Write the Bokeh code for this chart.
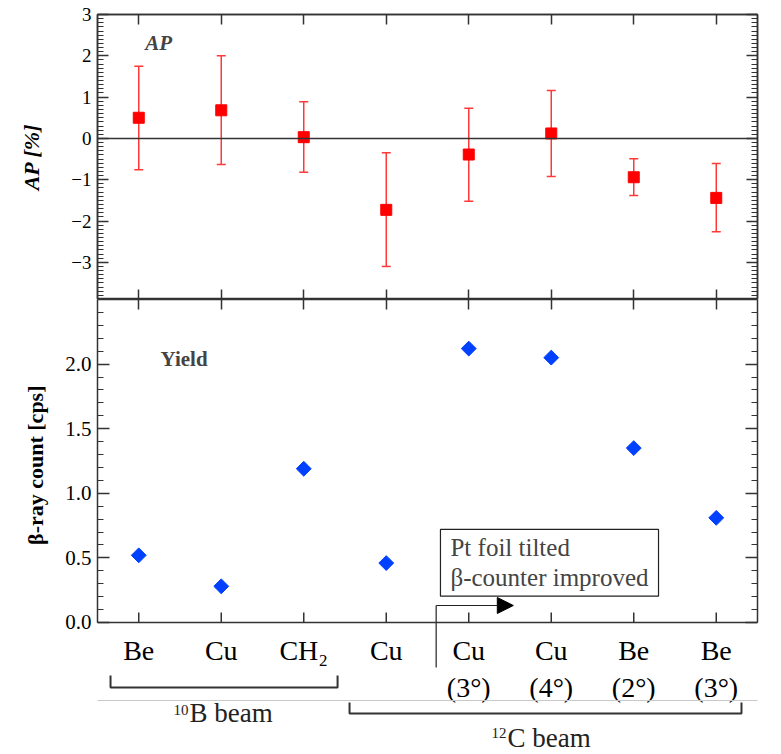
from math import pi
from bokeh.plotting import figure
from bokeh.layouts import column
from bokeh.models import (Range1d, FixedTicker, LinearAxis, Span, Whisker, Title,
                          TeeHead, ColumnDataSource, Label, Arrow, NormalHead, NumeralTickFormatter)
from bokeh.core.properties import value
from bokeh.embed import file_html
from bokeh.resources import INLINE

# ---------------- data ----------------
positions = [1, 2, 3, 4, 5, 6, 7, 8]
targets = ["Be", "Cu", "CH\u2082", "Cu", "Cu\n(3°)", "Cu\n(4°)", "Be\n(2°)", "Be\n(3°)"]
ap_value = [0.50, 0.68, 0.03, -1.73, -0.39, 0.12, -0.94, -1.44]
ap_upper = [1.75, 2.00, 0.89, -0.35, 0.73, 1.16, -0.49, -0.61]
ap_lower = [-0.76, -0.63, -0.82, -3.10, -1.52, -0.92, -1.38, -2.26]
yield_cps = [0.52, 0.28, 1.19, 0.46, 2.12, 2.05, 1.35, 0.81]
ap_ticks = [-3, -2, -1, 0, 1, 2, 3]
yield_ticks = [0.0, 0.5, 1.0, 1.5, 2.0]
beam_mass = ["10", "12"]
beam_names = ["B beam", "C beam"]

SERIF = "Liberation Serif"
AX = "#333333"
RED = "#ff0000"
BLUE = "#0040ff"

xr = Range1d(0.5, 8.5)


def style_axis(ax, tick_in, minor_in, labels, size="20px"):
    ax.axis_line_color = AX
    ax.axis_line_width = 1.5
    ax.major_tick_line_color = AX
    ax.major_tick_line_width = 1.5
    ax.minor_tick_line_color = AX if minor_in else None
    ax.minor_tick_line_width = 1.2
    ax.major_tick_in = tick_in
    ax.major_tick_out = 0
    ax.minor_tick_in = minor_in
    ax.minor_tick_out = 0
    ax.major_label_text_font = SERIF
    ax.major_label_text_color = "black"
    ax.axis_label_text_font = SERIF
    ax.axis_label_text_color = "black"
    if labels:
        ax.major_label_text_font_size = size
        ax.major_label_standoff = 6
    else:
        ax.major_label_text_font_size = "0px"
        ax.major_label_standoff = 0
        ax.major_label_text_color = None


def make_fig(height, yrange, top_b, bottom_b):
    p = figure(width=781, height=height, x_range=xr, y_range=yrange,
               output_backend="svg", toolbar_location=None,
               x_axis_location=None, y_axis_location=None,
               min_border_left=97, min_border_right=24,
               min_border_top=top_b, min_border_bottom=bottom_b)
    p.grid.visible = False
    p.background_fill_color = "white"
    p.border_fill_color = "white"
    return p


# ---------------- top panel: AP ----------------
top = make_fig(299, Range1d(-3.9, 3.0), 14, 0)
top.outline_line_color = AX
top.outline_line_width = 1.5
src_ap = ColumnDataSource(dict(x=positions, y=ap_value, upper=ap_upper, lower=ap_lower))

for loc, lab in (("left", True), ("right", False)):
    ax = LinearAxis(ticker=FixedTicker(ticks=ap_ticks,
                                       minor_ticks=[i / 10 for i in range(-39, 31)]))
    style_axis(ax, 11, 6, lab, "19px")
    if lab:
        ax.axis_label = "AP [%]"
        ax.axis_label_text_font_size = "22px"
        ax.axis_label_text_font_style = "bold italic"
        ax.axis_label_standoff = 24
    top.add_layout(ax, loc)
for loc in ("above", "below"):
    ax = LinearAxis(ticker=FixedTicker(ticks=positions))
    style_axis(ax, 10, 0, False)
    top.add_layout(ax, loc)

top.add_layout(Span(location=0, dimension="width", line_color=AX, line_width=1.5))
top.add_layout(Whisker(base="x", upper="upper", lower="lower", source=src_ap,
                       line_color="#ff3838", line_width=1.5,
                       upper_head=TeeHead(size=9, line_color="#ff3838", line_width=1.5),
                       lower_head=TeeHead(size=9, line_color="#ff3838", line_width=1.5)))
top.scatter("x", "y", source=src_ap, marker="square", size=11,
            fill_color=RED, line_color=RED)
top.add_layout(Label(x=1.08, y=2.32, text="AP", text_font=SERIF, text_font_size="21px",
                     text_font_style="bold italic", text_align="left", text_baseline="middle"))

# ---------------- bottom panel: yield (frame extended below for the labels) ----------------
bot = make_fig(455, Range1d(-1.0217, 2.5), 0, 0)
bot.outline_line_color = None
src_y = ColumnDataSource(dict(x=positions, y=yield_cps))

for loc, lab in (("left", True), ("right", False)):
    ax = LinearAxis(ticker=FixedTicker(ticks=yield_ticks,
                                       minor_ticks=[i / 10 for i in range(0, 26)]),
                    formatter=NumeralTickFormatter(format="0.0"), bounds=(0, 2.5))
    style_axis(ax, 12, 6, lab, "21px")
    bot.add_layout(ax, loc)
bot.add_layout(Title(text="β-ray count [cps]", align="right", offset=86, standoff=29,
                     text_font=SERIF, text_font_size="22px", text_font_style="bold",
                     text_color="black"), "left")
ax_top = LinearAxis(ticker=FixedTicker(ticks=positions))
style_axis(ax_top, 10, 0, False)
bot.add_layout(ax_top, "above")

# bottom edge of the panel, its ticks and the category labels
bot.add_layout(Span(location=0, dimension="width", line_color=AX, line_width=1.5))
bot.segment(x0=positions, y0=[0] * 8, x1=positions, y1=[0.0774] * 8,
            line_color=AX, line_width=1.5)
bot.text(x=positions, y=[-0.093] * 8, text=targets, text_font=value(SERIF),
         text_font_size="28px", text_align="center", text_baseline="top",
         text_line_height=1.22, text_color="black")

bot.scatter("x", "y", source=src_y, marker="square", angle=pi / 4, size=10.5,
            fill_color=BLUE, line_color=BLUE)

bot.add_layout(Label(x=1.264, y=2.04, text="Yield", text_font=SERIF, text_font_size="21px",
                     text_font_style="bold", text_align="left", text_baseline="middle"))

# annotation box + arrow
bot.add_layout(Label(x=4.657, y=0.72, text="Pt foil tilted\nβ-counter improved",
                     text_font=SERIF, text_font_size="25px", anchor="top_left",
                     text_align="left", text_baseline="top",
                     padding=dict(left=10, right=10, top=5, bottom=5),
                     text_line_height=1.1,
                     border_line_color="#222222", border_line_width=1.2,
                     background_fill_color="white"))
bot.segment(x0=[4.605], y0=[-0.348], x1=[4.605], y1=[0.1316], line_color="#222222",
            line_width=1.2)
bot.add_layout(Arrow(end=NormalHead(size=16, fill_color="black", line_color="black"),
                     x_start=4.605, y_start=0.1316, x_end=5.54, y_end=0.1316,
                     line_color="#222222", line_width=1.2))

# slide separator line
bot.segment(x0=[0.3], y0=[-0.604], x1=[8.7], y1=[-0.604], line_color="#c8c8c8", line_width=1)

# beam brackets
bx0 = [0.658, 3.555]
bx1 = [3.41, 8.306]
by_bar = [-0.503, -0.704]
by_tip = [-0.41, -0.62]
bot.multi_line(xs=[[a, a, b, b] for a, b in zip(bx0, bx1)],
               ys=[[t, y, y, t] for y, t in zip(by_bar, by_tip)],
               line_color=AX, line_width=2)
bot.text(x=[1.603, 5.458], y=[-0.677, -0.855], text=beam_mass, text_font=value(SERIF),
         text_font_size="15px", text_align="right", text_baseline="middle",
         text_color="#222222")
bot.text(x=[1.615, 5.470], y=[-0.704, -0.894], text=beam_names, text_font=value(SERIF),
         text_font_size="27px", text_align="left", text_baseline="middle",
         text_color="#222222")

layout = column(top, bot)
open("out.html", "w").write(file_html(layout, INLINE))
